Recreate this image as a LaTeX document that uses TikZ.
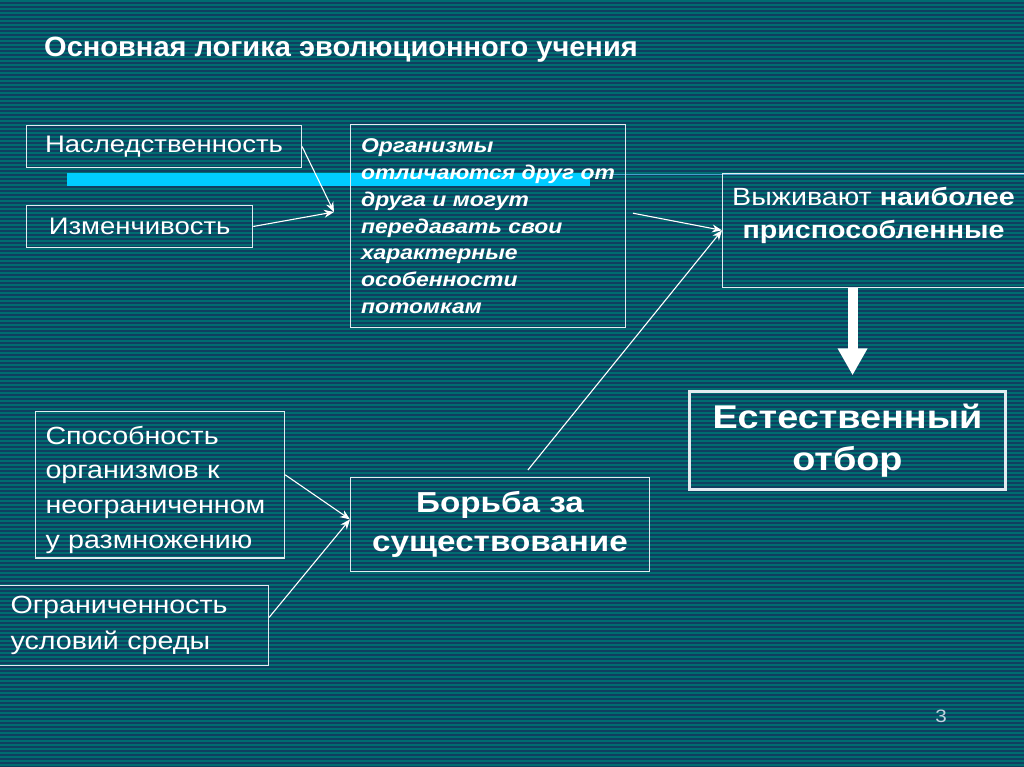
\documentclass[tikz,border=0pt]{standalone}
\usepackage{fontspec}
\setmainfont[FakeStretch=1.15]{Liberation Sans}
\newfontfamily\titlefont[FakeStretch=1.04]{Liberation Sans}
\usetikzlibrary{arrows.meta,positioning,calc}
\definecolor{bgteal}{RGB}{0,108,112}
\definecolor{bgstripe}{RGB}{16,62,96}
\definecolor{barcyan}{RGB}{0,204,255}
\definecolor{linecyan}{RGB}{70,160,205}
\definecolor{framecol}{RGB}{225,235,240}
\definecolor{pagenum}{RGB}{195,212,225}
\newcommand{\setfs}[2]{\fontsize{#1}{#2}\selectfont}

\begin{document}
\begin{tikzpicture}[
x=1bp, y=-1bp,
box/.style={draw=framecol, line width=1.1pt, text=white, inner sep=0pt, anchor=north west},
arrow/.style={-{Stealth[length=10pt,width=8pt]}, white, line width=1.1pt},
bigarrow/.style={-{Triangle[length=27pt,width=28pt]}, white, line width=10pt}
]
\useasboundingbox (0,0) rectangle (1024,767);
\clip (0,0) rectangle (1024,767);
\fill[bgteal] (0,0) rectangle (1024,767);
\foreach \y in {0,4,...,764}
  \fill[bgstripe] (0,\y+2) rectangle (1024,\y+4);

\fill[barcyan] (67,173) rectangle (590,186);
\draw[linecyan, line width=1.6pt] (590,174.5) -- (1024,174.5);

\node[anchor=base west, inner sep=0pt, text=white, font=\titlefont\bfseries\setfs{28}{32}] (title) at (44,57) {Основная логика эволюционного учения};

\node[box, minimum width=276pt, minimum height=42pt, font=\setfs{24}{28}] (nasl) at (26,125) {Наследственность};
\node[box, minimum width=227pt, minimum height=42pt, font=\setfs{24}{28}] (izm) at (26,205) {Изменчивость};
\node[box, minimum width=276pt, minimum height=204pt, align=left, font=\bfseries\itshape\setfs{20}{27}] (org) at (350,124) {Организмы\\отличаются друг от\\друга и могут\\передавать свои\\характерные\\особенности\\потомкам};
\node[box] (vyzh) at (722,173) {\parbox[c][114pt][t]{303pt}{\setfs{25}{33}\centering\vspace*{14pt}Выживают \textbf{наиболее}\\\textbf{приспособленные}}};
\node[box, line width=3pt, minimum width=317pt, minimum height=98pt, align=center, font=\bfseries\setfs{33}{42}] (otbor) at (688,390) {Естественный\\отбор};
\node[box, inner xsep=10pt, text width=230pt, minimum height=147pt, align=left, font=\setfs{25}{35}] (spos) at (35,411) {\parbox[c][137pt][c]{230pt}{\vspace*{10pt}Способность\\организмов к\\неограниченном\\у размножению}};
\node[box, inner xsep=13pt, text width=246pt, minimum height=80pt, align=left, font=\setfs{25}{37}] (ogr) at (-3,585) {Ограниченность\\условий среды};
\node[box, minimum width=300pt, minimum height=94pt, align=center, font=\bfseries\setfs{29}{40}] (borba) at (350,477) {Борьба за\\существование};
\node[text=pagenum, font=\setfs{18}{20}] (pnum) at (941,716) {3};

\coordinate (join) at (334,212);
\draw[arrow] (nasl.east) -- (join);
\draw[arrow] (izm.east) -- (join);
\draw[arrow] ([shift={(7pt,13pt)}]org.east) -- (vyzh.west);
\draw[arrow] ([shift={(28pt,7pt)}]borba.north) -- (vyzh.west);
\draw[arrow] ([yshift=10pt]spos.east) -- ([yshift=5pt]borba.west);
\draw[arrow] ([yshift=8pt]ogr.east) -- ([yshift=5pt]borba.west);
\draw[bigarrow] ([xshift=-21pt]vyzh.south) -- ++(0,-88pt);
\end{tikzpicture}
\end{document}
